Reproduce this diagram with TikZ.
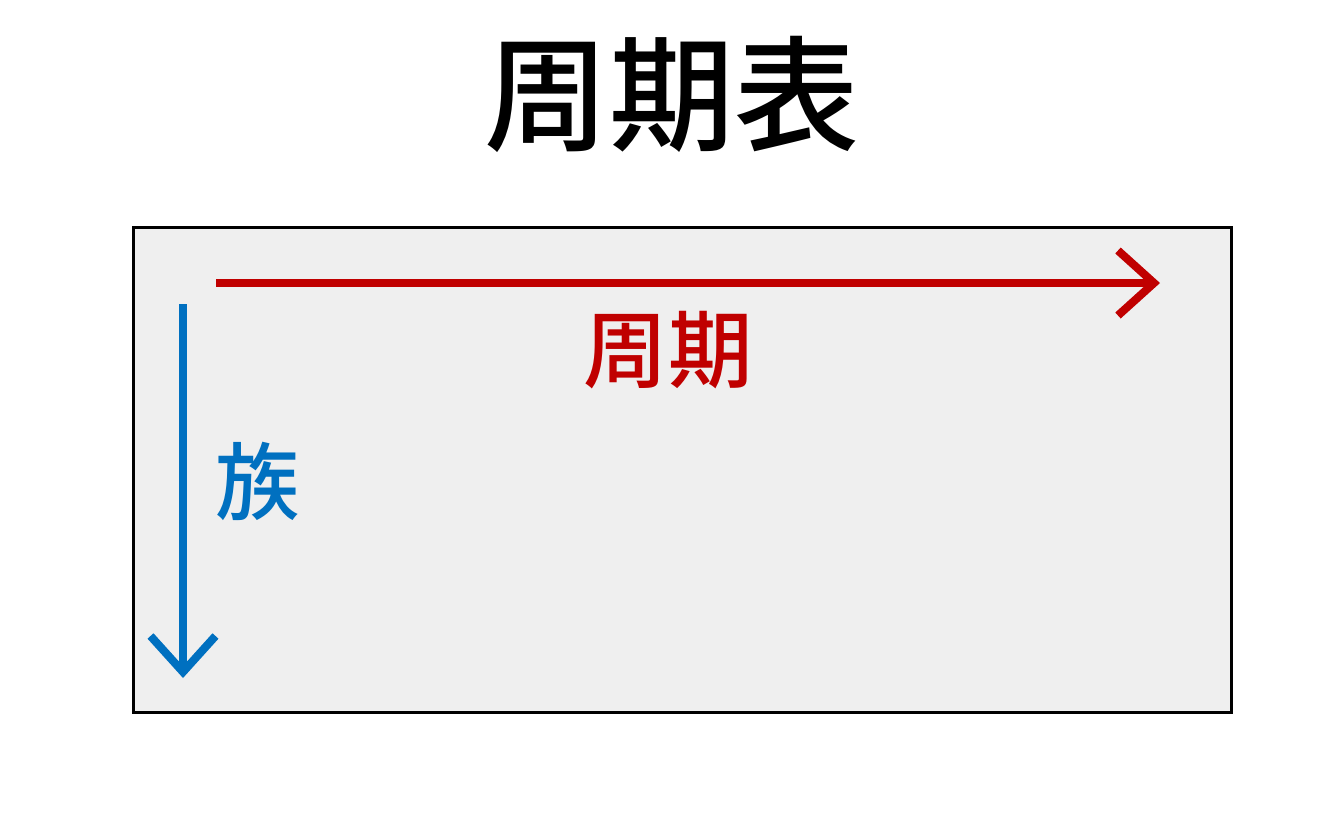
\documentclass[tikz,border=0pt]{standalone}
\usepackage{fontspec}
\newfontfamily\cjk[BoldFont={Noto Sans CJK JP Medium}]{Noto Sans CJK JP Medium}
\usetikzlibrary{positioning, arrows.meta}
\definecolor{periodred}{HTML}{C00000}
\definecolor{groupblue}{HTML}{0070C0}
\definecolor{panelgray}{HTML}{EFEFEF}

\begin{document}
\begin{tikzpicture}[x=0.02cm, y=-0.02cm]
		\tikzset{
			panel/.style={draw=black, line width=1.7pt, fill=panelgray, minimum width=21.98cm, minimum height=9.72cm, inner sep=0pt},
			axis/.style={line width=4.6pt, -{Straight Barb[length=0.72cm, width=1.3cm]}},
			label/.style={font=\cjk\fontsize{48}{50}\selectfont, inner sep=0pt}
		}
		\useasboundingbox (0,0) rectangle (1333,833);
		
		% Title
		\node[font=\cjk\fontsize{71}{73}\selectfont, inner sep=0pt] (title) at (672,94) {周期表};
		
		% Table area
		\node[panel] (table) at (682.5,470) {};
		
		% Arrow ends
		\coordinate (pstart) at (216,283);
		\coordinate (pend) at (1160,283);
		\coordinate (gstart) at (183,304);
		\coordinate (gend) at (183,678);
		
		% Arrows
		\draw[axis, periodred] (pstart) -- (pend);
		\draw[axis, groupblue] (gstart) -- (gend);
		
		% Labels
		\node[label, text=periodred] (period) at (668,350) {周期};
		\node[label, text=groupblue] (group) at (258,481) {族};
		
	\end{tikzpicture}
\end{document}
